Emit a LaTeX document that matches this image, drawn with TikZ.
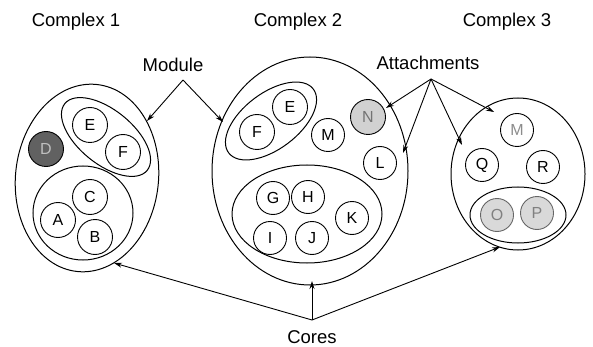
\documentclass[tikz,border=0pt]{standalone}
\usepackage{fontspec}
\setmainfont{Liberation Sans}
\usetikzlibrary{shapes.geometric,arrows.meta}
\begin{document}
\begin{tikzpicture}[x=1pt,y=-1pt,
  prot/.style={circle,draw,line width=0.9pt,minimum size=35pt,inner sep=0pt,font=\fontsize{16}{16}\selectfont},
  protsm/.style={prot,minimum size=33pt},
  ring/.style={ellipse,draw,line width=1pt,inner sep=0pt},
  lbl/.style={font=\fontsize{18.5}{18.5}\selectfont,inner sep=1pt},
  arr/.style={line width=0.9pt,-{Stealth[length=8pt,width=5pt]}},
  ln/.style={line width=0.9pt}]
\useasboundingbox (0,0) rectangle (593,347);
% Complex 1
\node[ring,minimum width=143pt,minimum height=188pt,rotate=-6] (c1) at (87,178) {};
\node[ring,minimum width=106pt,minimum height=54pt,rotate=-39] (m1) at (106,137) {};
\node[ring,minimum width=100pt,minimum height=94pt] (k1) at (83,213) {};
\node[prot] (e1) at (90,125) {E};
\node[prot] (f1) at (123,152) {F};
\node[prot,fill=black!62,text=black!25] (d1) at (46,149) {D};
\node[prot] (cc1) at (90,197) {C};
\node[prot] (a1) at (58,220) {A};
\node[prot] (b1) at (95,237) {B};
% Complex 2
\node[ring,minimum width=196pt,minimum height=228pt] (c2) at (310,171) {};
\node[ring,minimum width=106pt,minimum height=56pt,rotate=37] (m2) at (271,121) {};
\node[ring,minimum width=150pt,minimum height=98pt] (k2) at (307,214) {};
\node[prot] (e2) at (290,107) {E};
\node[prot] (f2) at (257,132) {F};
\node[protsm] (mm2) at (328,135) {M};
\node[prot,fill=black!18,text=black!55] (n2) at (368,117) {N};
\node[protsm] (l2) at (380,163) {L};
\node[protsm] (g2) at (273,198) {G};
\node[protsm] (h2) at (308,197) {H};
\node[protsm] (kk2) at (352,218) {K};
\node[protsm] (i2) at (270,238) {I};
\node[protsm] (j2) at (312,238) {J};
% Complex 3
\node[ring,minimum width=134pt,minimum height=152pt] (c3) at (518,174) {};
\node[ring,minimum width=96pt,minimum height=56pt] (k3) at (518,215) {};
\node[protsm,text=black!45] (mm3) at (517,130) {M};
\node[protsm] (q3) at (482,165) {Q};
\node[protsm] (r3) at (543,167) {R};
\node[protsm,fill=black!15,text=black!50,draw=black!60] (o3) at (497,215) {O};
\node[protsm,fill=black!15,text=black!50,draw=black!60] (p3) at (537,213) {P};
% Titles
\node[lbl] (t1) at (76,22) {Complex 1};
\node[lbl] (t2) at (298,22) {Complex 2};
\node[lbl] (t3) at (507,22) {Complex 3};
\node[lbl] (mod) at (173,65) {Module};
\node[lbl] (att) at (428,63) {Attachments};
\node[lbl] (cor) at (312,337) {Cores};
% Arrow apexes and tips
\coordinate (modA) at (183,80);
\coordinate (modT1) at (147,121);
\coordinate (modT2) at (223,122);
\coordinate (attA) at (431,79);
\coordinate (attT1) at (386,108);
\coordinate (attT2) at (403,153);
\coordinate (attT3) at (462,145);
\coordinate (attT4) at (494,112);
\coordinate (corA) at (312,320);
\coordinate (corT1) at (114,263);
\coordinate (corT2) at (312,281);
\coordinate (corT3) at (500,247);
\draw[arr] (modA) -- (modT1);
\draw[arr] (modA) -- (modT2);
\draw[arr] (attA) -- (attT1);
\draw[arr] (attA) -- (attT2);
\draw[arr] (attA) -- (attT3);
\draw[arr] (attA) -- (attT4);
\draw[arr] (corA) -- (corT1);
\draw[arr] (corA) -- (corT2);
\draw[arr] (corA) -- (corT3);
\end{tikzpicture}
\end{document}
